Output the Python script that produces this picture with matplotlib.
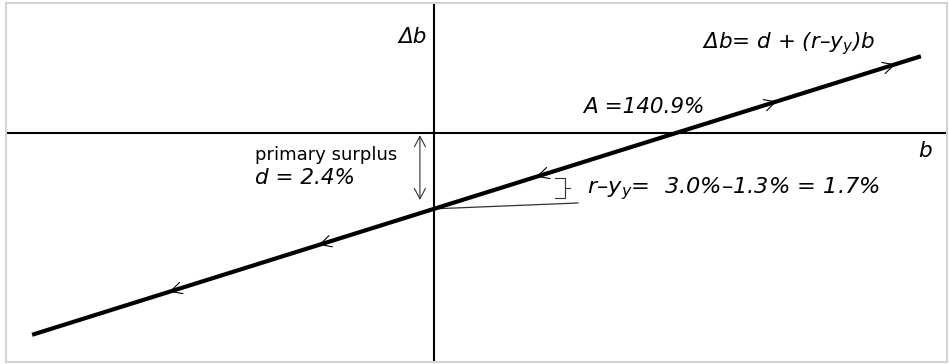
import matplotlib
matplotlib.use("Agg")
import matplotlib.pyplot as plt
import numpy as np

# Debt dynamics: change in debt ratio vs. debt ratio
d = 2.4            # primary surplus, % of output
r = 3.0            # interest rate, %
gamma = 1.3        # growth rate, %
A = 140.9          # steady-state debt ratio, %
b_ends = [-234.0, 283.5]               # extent of the drawn line (b, %)
arrow_b_right = [199.5, 268.5]         # direction markers above A
arrow_b_left = [59.7, -67.0, -154.0]   # direction markers below A

slope = d / A


def delta_b(b):
    return -d + slope * np.asarray(b)


fig = plt.figure(figsize=(9.49, 3.64), dpi=100)
ax = fig.add_axes([6 / 949, 2 / 364, 941 / 949, 359 / 364])
ax.set_xlim(-249.2, 298.7)
ax.set_ylim(-7.247, 4.114)
ax.set_xticks([])
ax.set_yticks([])
for s in ax.spines.values():
    s.set_color("#d4d4d4")
    s.set_linewidth(1.5)

# coordinate axes
ax.axhline(0, color="black", lw=1.5, zorder=2)
ax.axvline(0, color="black", lw=1.5, zorder=2)

# the debt-dynamics line
bb = np.array(b_ends)
ax.plot(bb, delta_b(bb), color="black", lw=3.0, solid_capstyle="butt", zorder=3)

# open chevrons showing the direction of motion
head = dict(arrowstyle="->,head_length=0.8,head_width=0.42", lw=0.8,
            color="black", shrinkA=0, shrinkB=0, mutation_scale=10)
for bt in arrow_b_right:
    ax.annotate("", xy=(bt, delta_b(bt)), xytext=(bt - 6, delta_b(bt - 6)),
                arrowprops=head, zorder=4)
for bt in arrow_b_left:
    ax.annotate("", xy=(bt, delta_b(bt)), xytext=(bt + 6, delta_b(bt + 6)),
                arrowprops=head, zorder=4)

# primary surplus distance between origin and intercept
ax.annotate("", xy=(-8.2, -0.07), xytext=(-8.2, -2.12),
            arrowprops=dict(arrowstyle="<->,head_length=0.75,head_width=0.4",
                            lw=0.8, color="#333333", shrinkA=0, shrinkB=0,
                            mutation_scale=10))

# leader line from the intercept and the slope brace
ax.plot([0, 83.8], [-d, -2.215], color="#333333", lw=0.9, zorder=2)
bx, bl, br = 76.3, 70.4, 79.2
top, bot = -1.42, -2.06
mid = (top + bot) / 2
ax.plot([bl, bx, bx, bl], [top, top, bot, bot], color="#333333", lw=0.8)
ax.plot([bx, br], [mid, mid], color="#333333", lw=0.8)

it = dict(fontsize=15.5, style="italic", color="black", family="DejaVu Sans")
ax.text(-4.1, 3.04, "Δb", ha="right", va="center", **it)
ax.text(156, 2.69, "Δb= d + (r–y$_{y}$)b", ha="left", va="baseline", **it)
ax.text(86.8, 0.633, "A =140.9%", ha="left", va="baseline", **it)
ax.text(281.8, -0.76, "b", ha="left", va="baseline", **it)
ax.text(-104.2, -0.854, "primary surplus", ha="left", va="baseline",
        fontsize=13, color="black", family="DejaVu Sans")
ax.text(-104.2, -1.61, f"d = {d:.1f}%", ha="left", va="baseline", **it)
ax.text(89.1, -1.90,
        f"r–y$_{{y}}$=  {r:.1f}%–{gamma:.1f}% = {r - gamma:.1f}%",
        ha="left", va="baseline",
        **{**it, "fontsize": 16.2})

fig.savefig("out.png", dpi=100)
